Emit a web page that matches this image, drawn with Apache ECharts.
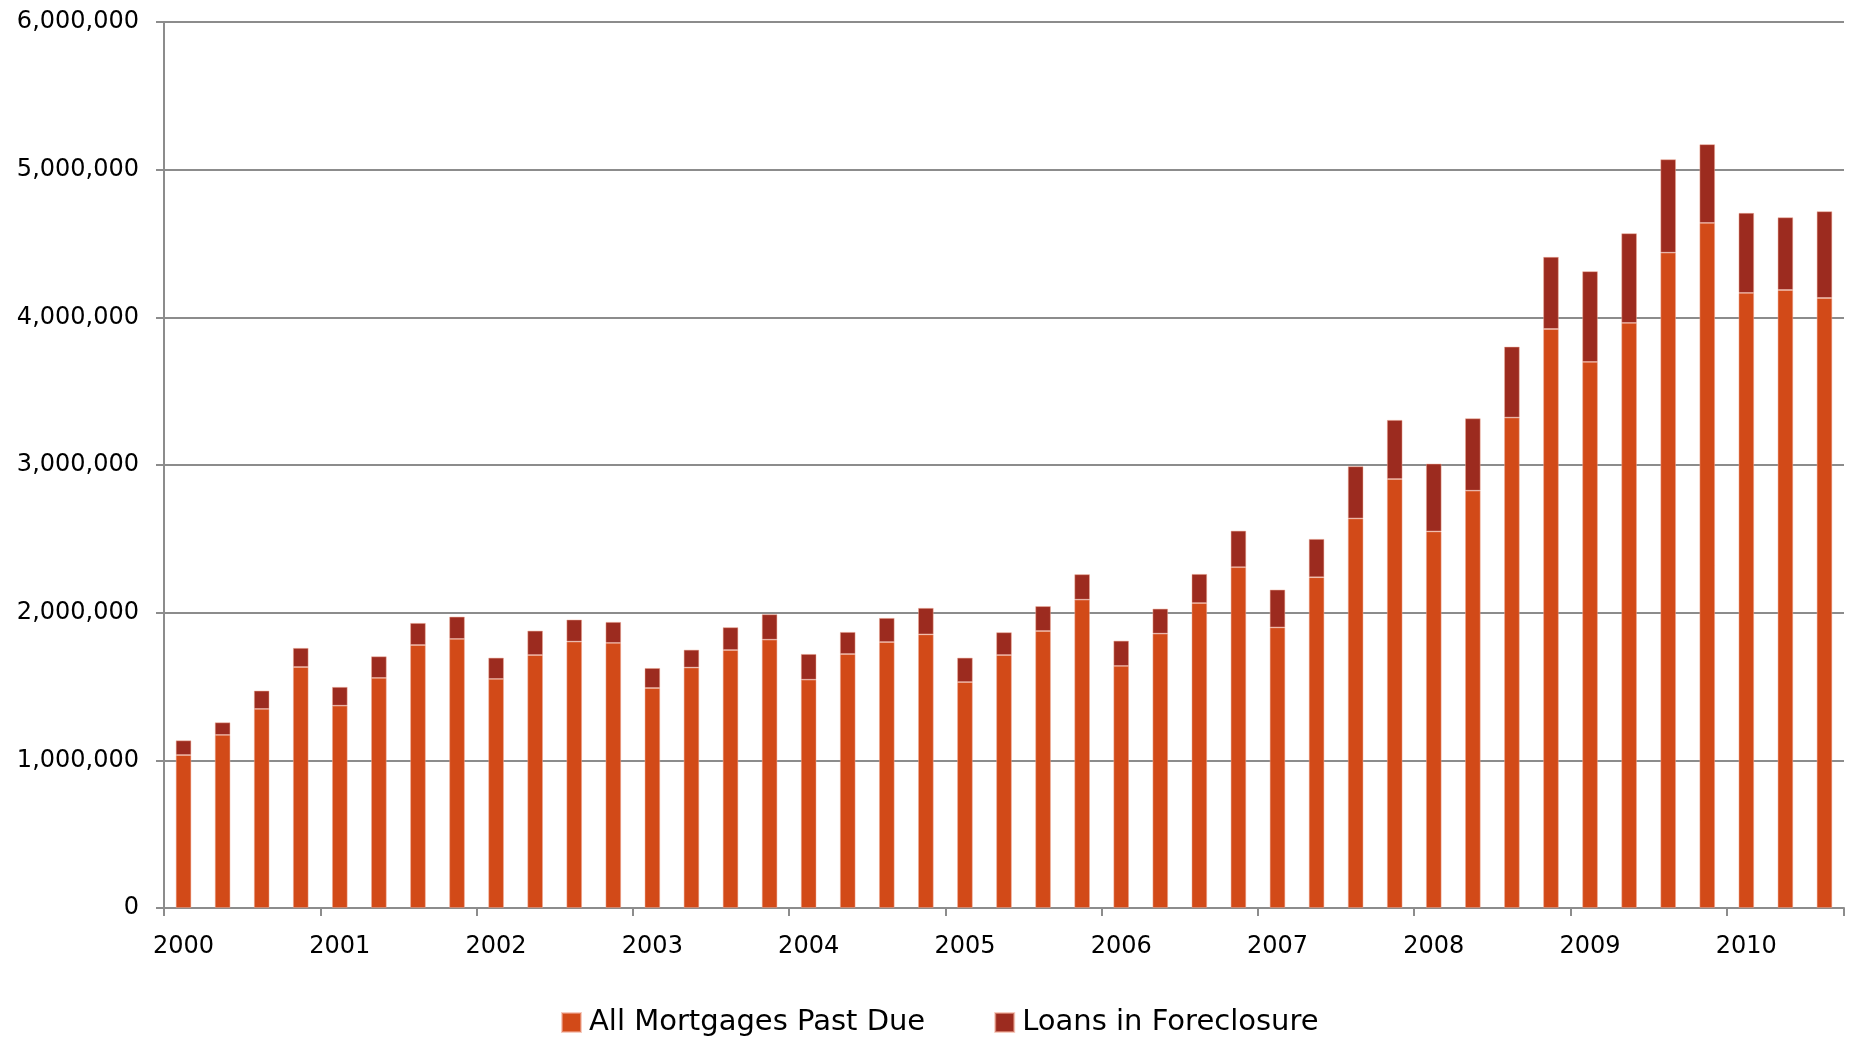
<!DOCTYPE html>
<html>
<head>
<meta charset="utf-8">
<script src="https://cdn.jsdelivr.net/npm/echarts@6/dist/echarts.min.js"></script>
<style>
  html, body { margin: 0; padding: 0; background: #ffffff; }
  #chart { width: 1850px; height: 1037px; }
</style>
</head>
<body>
<div id="chart"></div>
<script>
// Quarterly categories, 2000 Q1 – 2010 Q3
var categories = [
  '2000 Q1','2000 Q2','2000 Q3','2000 Q4',
  '2001 Q1','2001 Q2','2001 Q3','2001 Q4',
  '2002 Q1','2002 Q2','2002 Q3','2002 Q4',
  '2003 Q1','2003 Q2','2003 Q3','2003 Q4',
  '2004 Q1','2004 Q2','2004 Q3','2004 Q4',
  '2005 Q1','2005 Q2','2005 Q3','2005 Q4',
  '2006 Q1','2006 Q2','2006 Q3','2006 Q4',
  '2007 Q1','2007 Q2','2007 Q3','2007 Q4',
  '2008 Q1','2008 Q2','2008 Q3','2008 Q4',
  '2009 Q1','2009 Q2','2009 Q3','2009 Q4',
  '2010 Q1','2010 Q2','2010 Q3'
];

// All Mortgages Past Due
var pastDue = [
  1036000, 1172000, 1348000, 1632000,
  1370000, 1558000, 1781000, 1822000,
  1551000, 1713000, 1804000, 1795000,
  1490000, 1628000, 1747000, 1817000,
  1546000, 1720000, 1801000, 1853000,
  1530000, 1713000, 1876000, 2088000,
  1639000, 1858000, 2065000, 2308000,
  1900000, 2240000, 2638000, 2905000,
  2550000, 2826000, 3321000, 3921000,
  3698000, 3962000, 4438000, 4639000,
  4165000, 4185000, 4131000
];

// Loans in Foreclosure
var foreclosure = [
   99000,  85000, 124000, 129000,
  127000, 146000, 149000, 151000,
  144000, 165000, 149000, 142000,
  135000, 121000, 154000, 172000,
  174000, 149000, 163000, 179000,
  165000, 154000, 168000, 172000,
  171000, 169000, 197000, 247000,
  256000, 259000, 353000, 400000,
  459000, 490000, 480000, 488000,
  614000, 607000, 632000, 533000,
  542000, 492000, 587000
];

var seriesNames = ['All Mortgages Past Due', 'Loans in Foreclosure'];
var yTicks = [0, 1000000, 2000000, 3000000, 4000000, 5000000, 6000000];

var FONT = '"DejaVu Sans", sans-serif';
var GRAY = '#8c8c8c';

var chart = echarts.init(document.getElementById('chart'), null, { renderer: 'canvas' });

chart.setOption({
  animation: false,
  backgroundColor: '#ffffff',
  grid: { left: 164, right: 6, top: 22, bottom: 129, containLabel: false },
  legend: {
    data: seriesNames,
    left: 556,
    top: 1003,
    itemWidth: 19,
    itemHeight: 19,
    itemGap: 69,
    icon: 'rect',
    textStyle: { fontFamily: FONT, fontSize: 29, color: '#000000', padding: [0, 0, 0, 3] }
  },
  xAxis: {
    type: 'category',
    data: categories,
    boundaryGap: true,
    axisLine: { show: true, lineStyle: { color: GRAY, width: 2 } },
    axisTick: {
      show: true,
      interval: function (i) { return i % 4 === 0 && i < categories.length; },
      length: 8,
      lineStyle: { color: GRAY, width: 2 }
    },
    axisLabel: {
      interval: 3,
      margin: 27,
      fontFamily: FONT,
      fontSize: 24,
      color: '#000000',
      formatter: function (v) { return v.slice(0, 4); }
    },
    splitLine: { show: false }
  },
  yAxis: {
    type: 'value',
    min: yTicks[0],
    max: yTicks[yTicks.length - 1],
    interval: yTicks[1] - yTicks[0],
    axisLine: { show: true, lineStyle: { color: GRAY, width: 2 } },
    axisTick: { show: true, length: 8, lineStyle: { color: GRAY, width: 2 } },
    axisLabel: {
      margin: 25,
      fontFamily: FONT,
      fontSize: 24,
      color: '#000000',
      formatter: function (v) { return v.toLocaleString('en-US'); }
    },
    splitLine: { show: true, lineStyle: { color: GRAY, width: 2 } }
  },
  series: [
    {
      name: seriesNames[0],
      type: 'bar',
      stack: 'total',
      data: pastDue,
      barWidth: 15.5,
      itemStyle: { color: '#d24a18', borderColor: 'rgba(240,170,150,0.6)', borderWidth: 0.8 }
    },
    {
      name: seriesNames[1],
      type: 'bar',
      stack: 'total',
      data: foreclosure,
      barWidth: 15.5,
      itemStyle: { color: '#9c2b1f', borderColor: 'rgba(240,170,150,0.6)', borderWidth: 0.8 }
    }
  ]
});
</script>
</body>
</html>
